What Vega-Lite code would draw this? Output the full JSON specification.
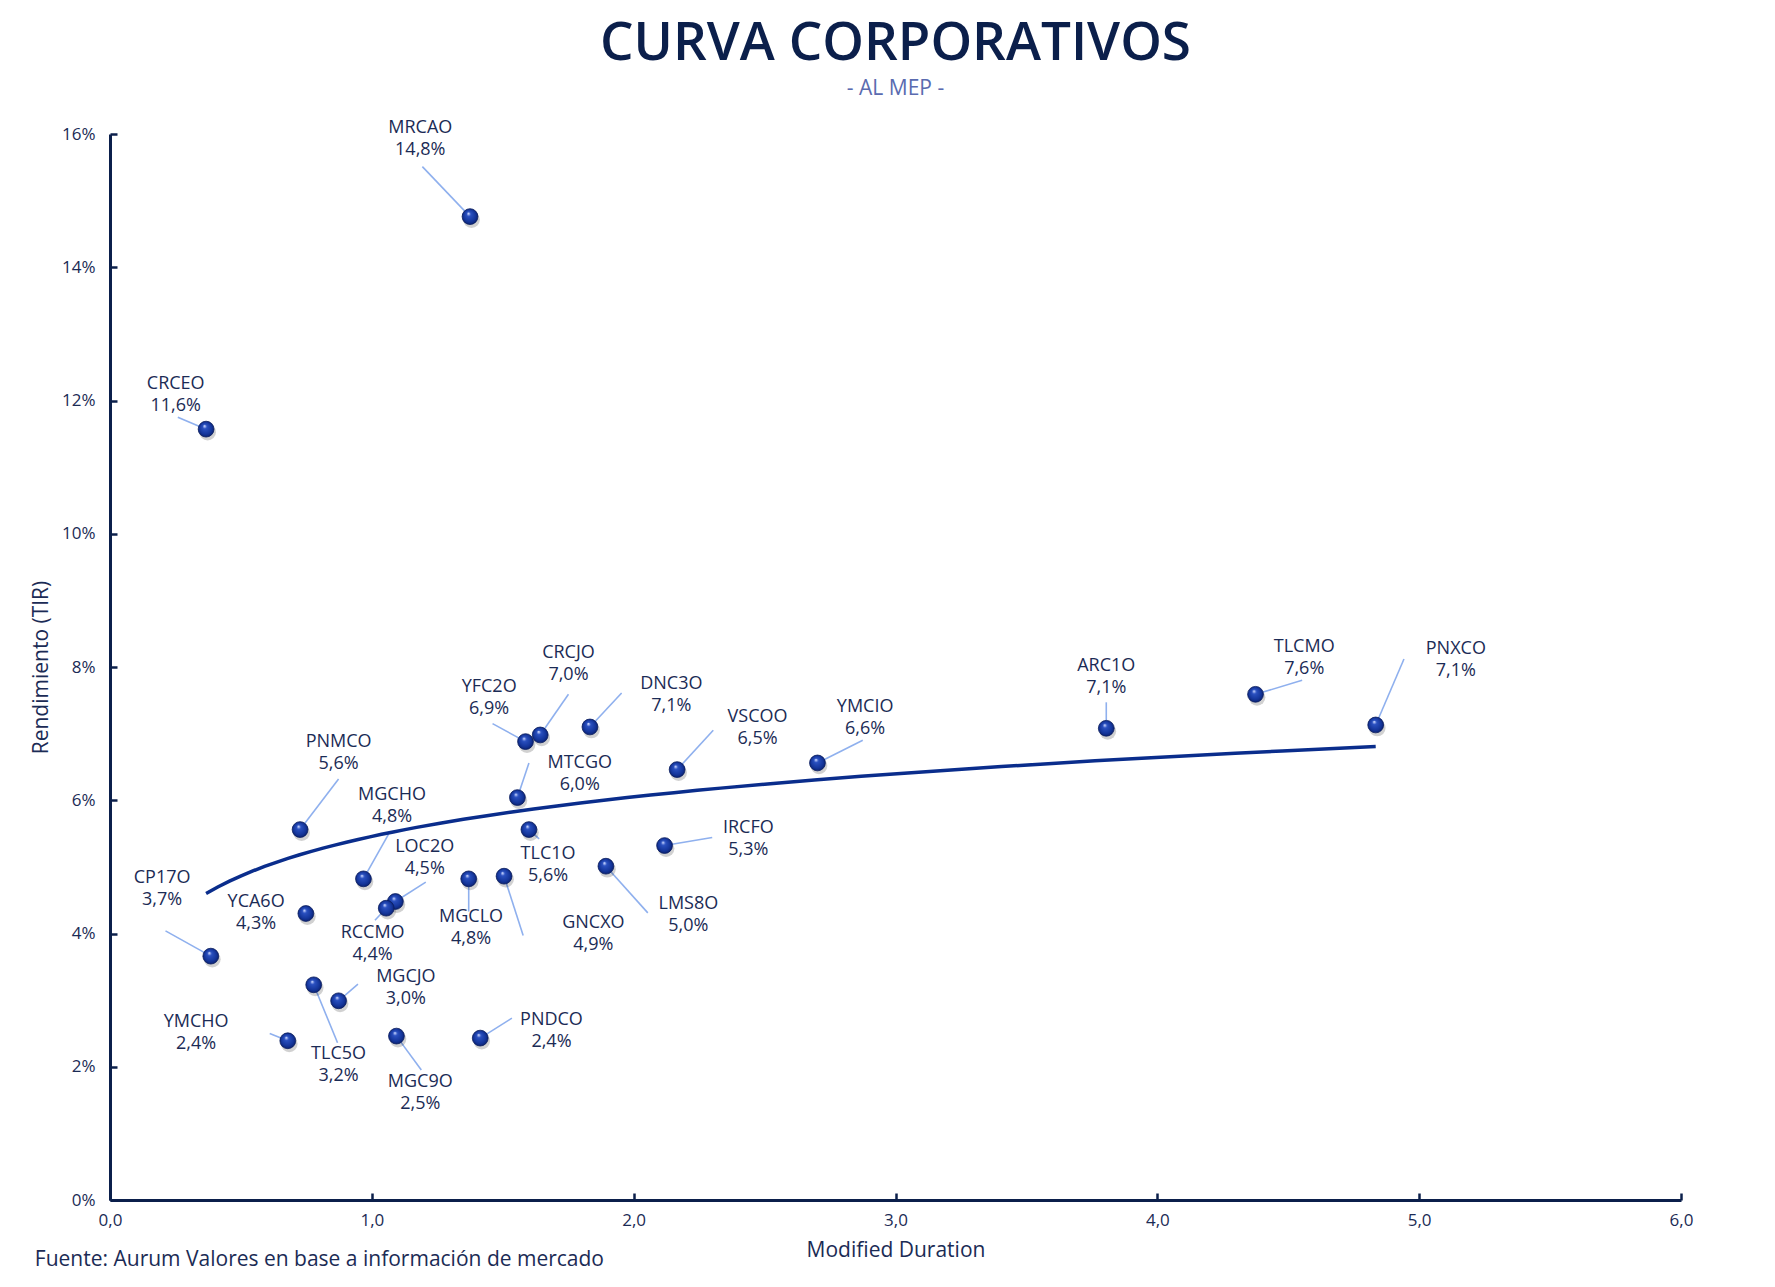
{
  "$schema": "https://vega.github.io/schema/vega-lite/v6.json",
  "width": 1571,
  "height": 1066,
  "autosize": {"type": "none"},
  "padding": {"left": 110, "top": 134, "right": 94, "bottom": 87},
  "background": "white",
  "title": {
    "text": "CURVA CORPORATIVOS",
    "subtitle": "- AL MEP -",
    "anchor": "middle",
    "font": "Open Sans",
    "fontSize": 53,
    "fontWeight": 600,
    "color": "#0b1f4b",
    "subtitleFont": "Open Sans",
    "subtitleFontSize": 21,
    "subtitleColor": "#5a6bb0",
    "subtitlePadding": 7,
    "offset": 20
  },
  "data": {
    "values": [
      {"name": "MRCAO", "md": 1.375, "tir": 0.1476, "lx": 1.185, "ly": 0.1592, "ex": 1.193, "ey": 0.1551},
      {"name": "CRCEO", "md": 0.367, "tir": 0.1157, "lx": 0.251, "ly": 0.1209, "ex": 0.259, "ey": 0.1175},
      {"name": "PNMCO", "md": 0.726, "tir": 0.0556, "lx": 0.873, "ly": 0.0671, "ex": 0.873, "ey": 0.0632},
      {"name": "MGCHO", "md": 0.968, "tir": 0.0482, "lx": 1.077, "ly": 0.0591, "ex": 1.064, "ey": 0.0549},
      {"name": "LOC2O", "md": 1.09, "tir": 0.0448, "lx": 1.202, "ly": 0.0513, "ex": 1.206, "ey": 0.0477},
      {"name": "RCCMO", "md": 1.055, "tir": 0.0438, "lx": 1.003, "ly": 0.0384, "ex": 1.012, "ey": 0.042},
      {"name": "YCA6O", "md": 0.748, "tir": 0.043, "lx": 0.558, "ly": 0.0431, "ex": 0.748, "ey": 0.043},
      {"name": "CP17O", "md": 0.385, "tir": 0.0366, "lx": 0.199, "ly": 0.0467, "ex": 0.212, "ey": 0.0404},
      {"name": "MGCLO", "md": 1.37, "tir": 0.0482, "lx": 1.379, "ly": 0.0408, "ex": 1.37, "ey": 0.0433},
      {"name": "GNCXO", "md": 1.505, "tir": 0.0486, "lx": 1.846, "ly": 0.0399, "ex": 1.578, "ey": 0.0397},
      {"name": "TLC1O", "md": 1.6, "tir": 0.0556, "lx": 1.673, "ly": 0.0503, "ex": 1.639, "ey": 0.0542},
      {"name": "LMS8O", "md": 1.894, "tir": 0.0501, "lx": 2.209, "ly": 0.0428, "ex": 2.054, "ey": 0.0431},
      {"name": "IRCFO", "md": 2.118, "tir": 0.0532, "lx": 2.438, "ly": 0.0542, "ex": 2.3, "ey": 0.0544},
      {"name": "MTCGO", "md": 1.556, "tir": 0.0604, "lx": 1.794, "ly": 0.064, "ex": 1.6, "ey": 0.0656},
      {"name": "YFC2O", "md": 1.587, "tir": 0.0688, "lx": 1.448, "ly": 0.0754, "ex": 1.461, "ey": 0.0715},
      {"name": "CRCJO", "md": 1.643, "tir": 0.0698, "lx": 1.751, "ly": 0.0805, "ex": 1.751, "ey": 0.0759},
      {"name": "DNC3O", "md": 1.833, "tir": 0.071, "lx": 2.144, "ly": 0.0758, "ex": 1.954, "ey": 0.0761},
      {"name": "VSCOO", "md": 2.166, "tir": 0.0646, "lx": 2.473, "ly": 0.0708, "ex": 2.304, "ey": 0.0705},
      {"name": "YMCIO", "md": 2.702, "tir": 0.0656, "lx": 2.884, "ly": 0.0724, "ex": 2.875, "ey": 0.069},
      {"name": "ARC1O", "md": 3.805, "tir": 0.0708, "lx": 3.805, "ly": 0.0785, "ex": 3.805, "ey": 0.0747},
      {"name": "TLCMO", "md": 4.375, "tir": 0.0759, "lx": 4.561, "ly": 0.0814, "ex": 4.553, "ey": 0.078},
      {"name": "PNXCO", "md": 4.834, "tir": 0.0713, "lx": 5.14, "ly": 0.081, "ex": 4.942, "ey": 0.0812},
      {"name": "TLC5O", "md": 0.778, "tir": 0.0323, "lx": 0.873, "ly": 0.0202, "ex": 0.869, "ey": 0.0236},
      {"name": "MGCJO", "md": 0.873, "tir": 0.0299, "lx": 1.13, "ly": 0.0318, "ex": 0.947, "ey": 0.0324},
      {"name": "YMCHO", "md": 0.679, "tir": 0.0239, "lx": 0.329, "ly": 0.025, "ex": 0.61, "ey": 0.025},
      {"name": "MGC9O", "md": 1.094, "tir": 0.0246, "lx": 1.185, "ly": 0.016, "ex": 1.189, "ey": 0.0195},
      {"name": "PNDCO", "md": 1.414, "tir": 0.0243, "lx": 1.686, "ly": 0.0253, "ex": 1.535, "ey": 0.0273}
    ]
  },
  "layer": [
    {
      "mark": {"type": "rule", "color": "#8fb0ee", "strokeWidth": 1.6},
      "encoding": {
        "x": {"field": "md", "type": "quantitative", "scale": {"domain": [0, 6], "nice": false, "zero": true},
          "axis": {"values": [0, 1, 2, 3, 4, 5, 6], "format": ".1f", "title": "Modified Duration", "grid": false, "labelFlush": false}},
        "y": {"field": "tir", "type": "quantitative", "scale": {"domain": [0, 0.16], "nice": false},
          "axis": {"values": [0, 0.02, 0.04, 0.06, 0.08, 0.1, 0.12, 0.14, 0.16], "format": ".0%", "title": "Rendimiento (TIR)", "grid": false, "labelFlush": false}},
        "x2": {"field": "ex"},
        "y2": {"field": "ey"}
      }
    },
    {
      "transform": [{"regression": "tir", "on": "md", "method": "log"}],
      "mark": {"type": "line", "color": "#0a2d8c", "strokeWidth": 3.5},
      "encoding": {
        "x": {"field": "md", "type": "quantitative"},
        "y": {"field": "tir", "type": "quantitative"}
      }
    },
    {
      "mark": {"type": "circle", "size": 280, "color": "#000000", "opacity": 0.18, "xOffset": 1.5, "yOffset": 3},
      "encoding": {
        "x": {"field": "md", "type": "quantitative"},
        "y": {"field": "tir", "type": "quantitative"}
      }
    },
    {
      "mark": {
        "type": "circle",
        "size": 250,
        "opacity": 1,
        "stroke": "#0a1d5e",
        "strokeWidth": 0.8,
        "fill": {
          "gradient": "radial",
          "x1": 0.4, "y1": 0.3, "r1": 0.02,
          "x2": 0.5, "y2": 0.5, "r2": 0.55,
          "stops": [
            {"offset": 0, "color": "#c9d6ff"},
            {"offset": 0.22, "color": "#2a50c0"},
            {"offset": 0.7, "color": "#14359a"},
            {"offset": 1, "color": "#0a1d66"}
          ]
        }
      },
      "encoding": {
        "x": {"field": "md", "type": "quantitative"},
        "y": {"field": "tir", "type": "quantitative"}
      }
    },
    {
      "mark": {"type": "text", "font": "Open Sans", "fontSize": 18, "letterSpacing": 1.1, "color": "#1b2b55", "align": "center", "baseline": "middle", "dy": -11},
      "encoding": {
        "x": {"field": "lx", "type": "quantitative"},
        "y": {"field": "ly", "type": "quantitative"},
        "text": {"field": "name"}
      }
    },
    {
      "mark": {"type": "text", "font": "Open Sans", "fontSize": 18, "letterSpacing": 0.7, "color": "#1b2b55", "align": "center", "baseline": "middle", "dy": 11},
      "encoding": {
        "x": {"field": "lx", "type": "quantitative"},
        "y": {"field": "ly", "type": "quantitative"},
        "text": {"field": "tir", "type": "quantitative", "format": ".1%"}
      }
    },
    {
      "data": {"values": [{"note": "Fuente: Aurum Valores en base a información de mercado"}]},
      "mark": {"type": "text", "font": "Open Sans", "fontSize": 21, "color": "#1b2b55", "align": "left", "baseline": "middle"},
      "encoding": {
        "x": {"datum": -0.287, "type": "quantitative"},
        "y": {"datum": -0.009, "type": "quantitative"},
        "text": {"field": "note"}
      }
    }
  ],
  "config": {
    "locale": {"number": {"decimal": ",", "thousands": ".", "grouping": [3], "currency": ["$", ""]}},
    "view": {"stroke": null},
    "axis": {
      "domainColor": "#0b1f4b",
      "domainWidth": 3,
      "tickColor": "#0b1f4b",
      "tickWidth": 2.5,
      "tickSize": -7,
      "labelFont": "Open Sans",
      "labelFontSize": 17,
      "labelColor": "#1b2b55",
      "titleFont": "Open Sans",
      "titleFontSize": 21,
      "titleFontWeight": "normal",
      "titleColor": "#1b2b55"
    },
    "axisY": {"labelPadding": 22, "titlePadding": 10},
    "axisX": {"labelPadding": 19, "titlePadding": 11}
  }
}
